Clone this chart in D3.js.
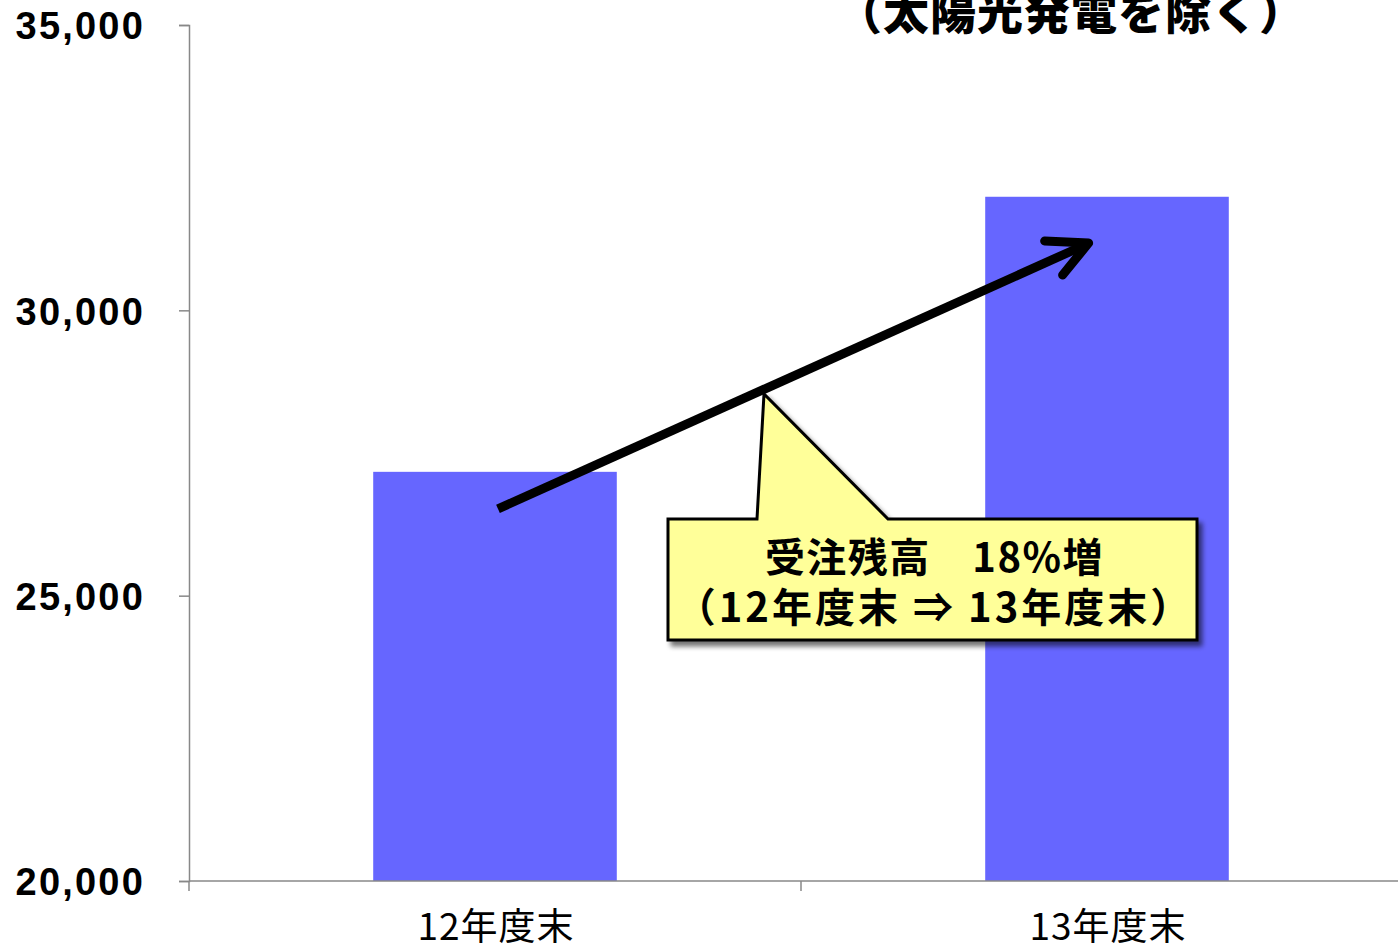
<!DOCTYPE html>
<html><head><meta charset="utf-8">
<script src="https://cdn.jsdelivr.net/npm/d3@7"></script>
<style>
html,body{margin:0;padding:0;background:#fff;overflow:hidden}
svg{display:block}
</style></head>
<body>
<svg id="chart" width="1398" height="943"></svg>
<script>
// ---- data ----
const categories = ["12年度末", "13年度末"];
const values = [27170, 31990];
const yTicks = [20000, 25000, 30000, 35000];
const title = "（太陽光発電を除く）";
const calloutLines = ["受注残高　18%増", "（12年度末 ⇒ 13年度末）"];
// arrow annotation in data terms: [step offset from first category centre, value]
const arrowFrom = [0, 26520];
const arrowTo = [0.97, 31180];

(function () {
const svg = d3.select("#chart");
const W = 1398;
const mLeft = 189, mTop = 25, mBottom = 881, rightEnd = 1413;

const x = d3.scaleBand().domain(categories).range([mLeft, rightEnd]).padding(0);
const y = d3.scaleLinear().domain([20000, 35000]).range([mBottom, mTop]);
const barW = x.bandwidth() * 0.398;

// defs
const defs = svg.append("defs");
const f = defs.append("filter").attr("id", "shadow").attr("x", "-10%").attr("y", "-10%").attr("width", "130%").attr("height", "140%");
f.append("feGaussianBlur").attr("in", "SourceAlpha").attr("stdDeviation", 2.5).attr("result", "b");
f.append("feOffset").attr("in", "b").attr("dx", 4).attr("dy", 5).attr("result", "o");
f.append("feComponentTransfer").attr("in", "o").attr("result", "o2")
  .append("feFuncA").attr("type", "linear").attr("slope", 0.55);
const m = f.append("feMerge");
m.append("feMergeNode").attr("in", "o2");
m.append("feMergeNode").attr("in", "SourceGraphic");

// bars
svg.append("g").selectAll("rect").data(categories).join("rect")
  .attr("x", (d) => x(d) + x.bandwidth() / 2 - barW / 2)
  .attr("y", (d, i) => y(values[i]))
  .attr("width", barW)
  .attr("height", (d, i) => y(20000) - y(values[i]))
  .attr("fill", "#6666FF");

// y axis
const yAxis = d3.axisLeft(y).tickValues(yTicks).tickSize(10).tickPadding(34)
  .tickFormat(d3.format(","));
const gy = svg.append("g").attr("transform", `translate(${mLeft},0)`).call(yAxis);
gy.select(".domain").attr("stroke", "#888").attr("stroke-width", 1.5);
gy.selectAll(".tick line").attr("stroke", "#888").attr("stroke-width", 1.5);
gy.selectAll(".tick text").attr("fill", "#000")
  .style("font-family", "'Liberation Sans', Arial, sans-serif")
  .style("font-weight", "bold").style("font-size", "38px")
  .attr("letter-spacing", "2.2px").attr("dy", "0.36em");

// x axis
const gx = svg.append("g").attr("transform", `translate(0,${mBottom})`);
gx.append("line").attr("x1", mLeft).attr("x2", W).attr("stroke", "#888").attr("stroke-width", 1.5);
const bounds = [mLeft, x(categories[1])];
gx.selectAll("line.t").data(bounds).join("line").attr("class", "t")
  .attr("x1", (d) => d).attr("x2", (d) => d).attr("y1", 0).attr("y2", 10)
  .attr("stroke", "#888").attr("stroke-width", 1.5);
gx.selectAll("text").data(categories).join("text")
  .attr("x", (d) => x(d) + x.bandwidth() / 2 + 1)
  .attr("y", 59)
  .attr("text-anchor", "middle")
  .style("font-family", "'Noto Sans CJK JP', sans-serif")
  .style("font-size", "37px").attr("letter-spacing", "1px").attr("fill", "#000")
  .text((d) => d);

// title (partially cut)
svg.append("text").attr("x", 1071).attr("y", 29).attr("text-anchor", "middle")
  .style("font-family", "'Noto Sans CJK JP', sans-serif").style("font-weight", "900")
  .style("font-size", "46px").attr("letter-spacing", "1px").attr("fill", "#000").text(title);

// arrow
const c0 = x(categories[0]) + x.bandwidth() / 2;
const x1 = c0 + 3, y1 = y(arrowFrom[1]);
const x2 = c0 + arrowTo[0] * x.step(), y2 = y(arrowTo[1]);
const ag = svg.append("g").attr("stroke", "#000").attr("stroke-width", 9).attr("stroke-linecap", "round").attr("fill", "none").attr("stroke-linejoin", "round");
ag.append("line").attr("x1", x1).attr("y1", y1).attr("x2", x2 - 6).attr("y2", y2 + 3).attr("stroke-linecap", "butt");
ag.append("path").attr("d", `M${x2 - 44},${y2 - 2} L${x2},${y2} L${x2 - 26},${y2 + 32}`);

// callout
const bx = 668, by = 519, bw = 529, bh = 121;
const px1 = 757, px2 = 888, tipX = 764, tipY = 394;
const cg = svg.append("g");
cg.append("path")
  .attr("d", `M${bx},${by} L${px1},${by} L${tipX},${tipY} L${px2},${by} L${bx + bw},${by} L${bx + bw},${by + bh} L${bx},${by + bh} Z`)
  .attr("fill", "#FFFF99").attr("stroke", "#000").attr("stroke-width", 3)
  .attr("stroke-linejoin", "miter").attr("filter", "url(#shadow)");
cg.selectAll("text").data(calloutLines).join("text")
  .attr("x", bx + bw / 2 + 2).attr("y", (d, i) => by + 53 + i * 50)
  .attr("text-anchor", "middle")
  .style("font-family", "'Noto Sans CJK JP', sans-serif").style("font-weight", "bold")
  .style("font-size", "40px").attr("letter-spacing", (d, i) => i ? "3px" : "1.5px").attr("fill", "#000")
  .text((d) => d);
})();
</script>
</body></html>
